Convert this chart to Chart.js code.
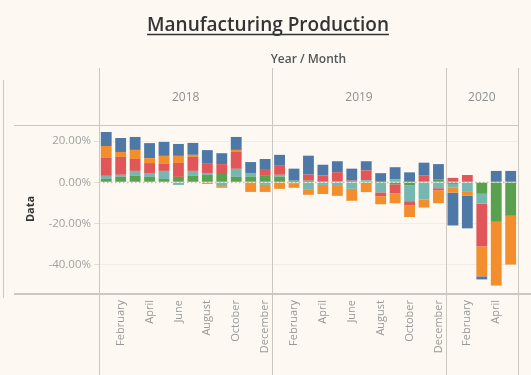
<!DOCTYPE html>
<html>
<head>
<meta charset="utf-8">
<script src="https://cdn.jsdelivr.net/npm/chart.js@4"></script>
<style>
  html, body { margin: 0; padding: 0; background: #fdf9f2; }
  #wrap { width: 531px; height: 375px; }
</style>
</head>
<body>
<div id="wrap"><canvas id="chart" width="531" height="375"></canvas></div>
<script>
// Months Jan 2018 - May 2020
const monthNames = ['January', 'February', 'March', 'April', 'May', 'June',
    'July', 'August', 'September', 'October', 'November', 'December'];
const years = ['2018', '2019', '2020'];
const monthsPerYear = [12, 12, 5];
const yTicks = [-40, -20, 0, 20];

// Percent contributions per month
const greenSeries = [1.6, 2.6, 3.1, 2.6, 1.6, 2.6, 3.1, 3.5, 4.0, 2.6, 2.6, 3.1,
    2.6, 0.8, 0.8, 0.3, 0.5, 0.3, -0.3, -0.4, -1.0, -1.5, 0.3, 1.5,
    -0.8, 0, -5.6, -19.2, -16.3];
const tealSeries = [1.5, 1.0, 2.4, 1.9, 3.9, -1.3, 2.4, 1.0, -1.9, 3.9, 1.9, -1.3,
    1.0, -0.8, -3.7, -1.3, -1.8, -3.2, 1.0, -4.5, 1.5, -7.7, -8.4, -2.9,
    -1.9, -4.7, -4.8, 0, 0];
const redSeries = [8.7, 8.7, 5.8, 4.8, 3.4, 6.8, 6.8, 4.8, 4.8, 8.2, -0.3, 2.9,
    4.4, 0, 2.9, 2.9, 4.4, 0.5, 4.8, -1.9, -4.4, -1.9, 2.9, -1.0,
    2.1, 3.5, -20.8, 0, 0];
const orangeSeries = [5.8, 2.4, 4.4, 2.4, 3.9, 3.4, 1.0, -0.8, -0.8, 1.0, -4.4, -3.4,
    -3.2, -1.9, -2.4, -4.4, -4.8, -5.8, -4.5, -3.9, -4.8, -5.8, -3.9, -6.3,
    -2.3, -1.9, -14.5, -31.0, -23.7];
const blueSeries = [6.8, 6.8, 6.3, 7.3, 6.8, 5.8, 5.8, 6.3, 5.3, 6.3, 5.3, 5.3,
    5.3, 5.8, 9.2, 5.3, 5.3, 5.8, 4.4, 4.4, 5.8, 4.8, 6.3, 7.3,
    -16.0, -15.8, -1.5, 5.5, 5.5];

// Build category labels from the year/month lists
const labels = [];
years.forEach((yr, i) => {
    for (let m = 0; m < monthsPerYear[i]; m++) {
        labels.push(monthNames[m] + ' ' + yr);
    }
});

const FONT = "'Open Sans', sans-serif";
const LINE = '#cbc8c2';

// Zero line (dotted) under the bars
const zeroLine = {
    id: 'zeroLine',
    beforeDatasetsDraw(chart) {
        const { ctx, chartArea, scales: { y } } = chart;
        const py = Math.round(y.getPixelForValue(0)) + 0.5;
        ctx.save();
        ctx.strokeStyle = '#c4c1bb';
        ctx.lineWidth = 1.5;
        ctx.setLineDash([1.5, 2.5]);
        ctx.beginPath();
        ctx.moveTo(chartArea.left, py);
        ctx.lineTo(chartArea.right, py);
        ctx.stroke();
        ctx.restore();
    }
};

// Tableau-like header: title, "Year / Month", year panes and dividers
const header = {
    id: 'header',
    afterDraw(chart) {
        const { ctx, chartArea, scales: { x } } = chart;
        const W = chart.width, H = chart.height;

        // pane boundaries
        const bounds = [chartArea.left];
        let idx = 0;
        monthsPerYear.forEach(n => {
            idx += n;
            if (idx < labels.length) {
                bounds.push((x.getPixelForValue(idx - 1) + x.getPixelForValue(idx)) / 2);
            }
        });
        bounds.push(chartArea.right);

        ctx.save();
        ctx.strokeStyle = LINE;
        ctx.lineWidth = 1;
        bounds.forEach(bx => {
            const px = Math.round(bx) + 0.5;
            ctx.beginPath();
            ctx.moveTo(px, 68);
            ctx.lineTo(px, H);
            ctx.stroke();
        });
        // top rule of the plot
        ctx.beginPath();
        ctx.moveTo(14, chartArea.top + 0.5);
        ctx.lineTo(chartArea.right, chartArea.top + 0.5);
        ctx.stroke();
        // left stray border
        ctx.beginPath();
        ctx.moveTo(3.5, 80);
        ctx.lineTo(3.5, 298);
        ctx.stroke();
        // bottom rule
        ctx.lineWidth = 2;
        ctx.beginPath();
        ctx.moveTo(14, chartArea.bottom + 1);
        ctx.lineTo(W, chartArea.bottom + 1);
        ctx.stroke();

        // year labels
        ctx.fillStyle = '#8f8f8f';
        ctx.font = '12px ' + FONT;
        ctx.textAlign = 'center';
        ctx.textBaseline = 'middle';
        years.forEach((yr, i) => {
            ctx.fillText(yr, (bounds[i] + bounds[i + 1]) / 2, 98);
        });

        // Year / Month
        ctx.fillStyle = '#555';
        ctx.font = '600 12px ' + FONT;
        ctx.fillText('Year / Month', (chartArea.left + chartArea.right) / 2, 60);

        // Title with underline
        ctx.fillStyle = '#333';
        ctx.font = '600 19px ' + FONT;
        ctx.textBaseline = 'alphabetic';
        const title = 'Manufacturing Production';
        const tx = 268;
        ctx.fillText(title, tx, 31);
        const tw = ctx.measureText(title).width;
        ctx.strokeStyle = '#333';
        ctx.lineWidth = 1.5;
        ctx.beginPath();
        ctx.moveTo(tx - tw / 2, 34.5);
        ctx.lineTo(tx + tw / 2, 34.5);
        ctx.stroke();
        ctx.restore();
    }
};

const ctx = document.getElementById('chart').getContext('2d');
new Chart(ctx, {
    type: 'bar',
    data: {
        labels: labels,
        datasets: [
            { label: 'Green', data: greenSeries, backgroundColor: '#59a14f' },
            { label: 'Teal', data: tealSeries, backgroundColor: '#76b7b2' },
            { label: 'Red', data: redSeries, backgroundColor: '#e15759' },
            { label: 'Orange', data: orangeSeries, backgroundColor: '#f28e2b' },
            { label: 'Blue', data: blueSeries, backgroundColor: '#4e79a7' }
        ]
    },
    options: {
        responsive: false,
        animation: false,
        devicePixelRatio: 1,
        layout: { padding: { top: 125, right: 7, left: 0, bottom: 0 } },
        datasets: {
            bar: { barPercentage: 0.75, categoryPercentage: 1, borderWidth: 0 }
        },
        plugins: {
            legend: { display: false },
            tooltip: { enabled: false },
            title: { display: false }
        },
        scales: {
            x: {
                stacked: true,
                grid: { display: false, drawTicks: false },
                border: { display: false },
                afterFit: scale => { scale.height = 82; },
                ticks: {
                    autoSkip: false,
                    maxRotation: 90,
                    minRotation: 90,
                    padding: 7,
                    color: '#999',
                    font: { family: FONT, size: 11 },
                    callback: (value, index) => index % 2 === 1 ? monthNames[index % 12] : ''
                }
            },
            y: {
                stacked: true,
                min: -53.8,
                max: 27.8,
                afterBuildTicks: scale => { scale.ticks = yTicks.map(v => ({ value: v })); },
                afterFit: scale => { scale.width = 99; },
                grid: {
                    color: c => c.tick && c.tick.value === 0 ? 'rgba(0,0,0,0)' : '#f1ede5',
                    tickColor: '#e2ded7',
                    tickLength: 5,
                    lineWidth: 1
                },
                border: { display: false },
                ticks: {
                    padding: 3,
                    color: '#a0a0a0',
                    font: { family: FONT, size: 11.5 },
                    callback: v => v.toFixed(2) + '%'
                },
                title: {
                    display: true,
                    text: 'Data',
                    color: '#333',
                    font: { family: FONT, size: 11, weight: 'bold' },
                    padding: { top: 24, bottom: 0 }
                }
            }
        }
    },
    plugins: [zeroLine, header]
});
</script>
</body>
</html>
